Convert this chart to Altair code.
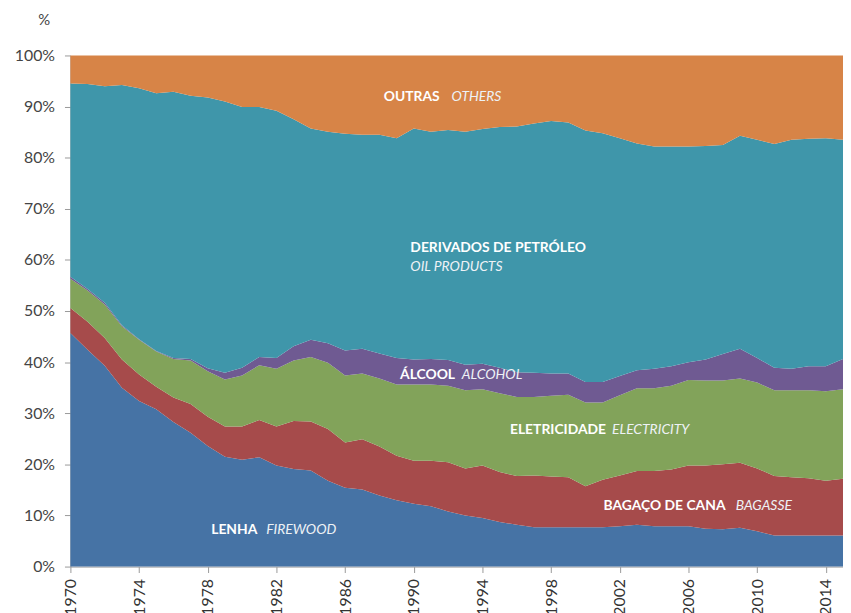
import altair as alt
import pandas as pd

years = list(range(1970, 2016))

lenha = [45.7, 42.4, 39.3, 35.0, 32.4, 30.8, 28.3, 26.2, 23.6, 21.5,
         20.9, 21.4, 19.8, 19.1, 18.8, 16.8, 15.4, 15.1, 13.9, 13.0,
         12.3, 11.8, 10.8, 10.0, 9.5, 8.7, 8.2, 7.7, 7.7, 7.7,
         7.7, 7.7, 7.9, 8.2, 7.9, 7.9, 7.9, 7.4, 7.3, 7.6,
         6.9, 6.1, 6.1, 6.1, 6.1, 6.1]

bagaco = [4.9, 5.5, 5.4, 5.5, 5.2, 4.4, 4.8, 5.6, 5.7, 5.9,
          6.5, 7.3, 7.6, 9.4, 9.6, 10.1, 8.9, 9.8, 9.6, 8.7,
          8.4, 8.9, 9.6, 9.2, 10.3, 9.8, 9.5, 10.1, 9.9, 9.8,
          8.0, 9.3, 9.9, 10.5, 10.8, 11.1, 11.9, 12.4, 12.7, 12.7,
          12.3, 11.6, 11.4, 11.2, 10.7, 11.1]

eletricidade = [5.7, 6.1, 6.6, 6.5, 6.8, 6.9, 7.5, 8.5, 8.9, 9.2,
                10.0, 10.7, 11.3, 11.8, 12.6, 13.0, 13.1, 12.9, 13.3, 13.9,
                14.9, 14.9, 15.0, 15.3, 14.9, 15.4, 15.5, 15.4, 15.8, 16.1,
                16.4, 15.1, 15.7, 16.2, 16.2, 16.4, 16.7, 16.6, 16.4, 16.5,
                16.8, 16.8, 17.0, 17.2, 17.5, 17.5]

alcool = [0.4, 0.3, 0.3, 0.2, 0.1, 0.1, 0.2, 0.3, 0.6, 1.3,
          1.5, 1.6, 2.1, 2.8, 3.4, 3.8, 4.9, 4.8, 4.9, 5.2,
          4.9, 5.0, 5.0, 5.0, 5.0, 5.0, 4.8, 4.7, 4.4, 4.2,
          4.0, 4.0, 3.8, 3.5, 3.8, 3.8, 3.5, 4.1, 5.2, 5.8,
          4.8, 4.4, 4.2, 4.7, 4.9, 5.9]

derivados = [37.8, 40.1, 42.4, 47.0, 49.1, 50.4, 52.1, 51.5, 53.0, 53.1,
             51.0, 48.9, 48.4, 44.4, 41.3, 41.4, 42.4, 41.9, 42.8, 43.0,
             45.2, 44.5, 45.0, 45.6, 45.9, 47.1, 48.1, 48.8, 49.4, 49.1,
             49.2, 48.7, 46.5, 44.4, 43.5, 43.0, 42.2, 41.8, 40.9, 41.7,
             42.7, 43.8, 44.8, 44.5, 44.6, 42.9]

outras = [5.5, 5.6, 6.0, 5.8, 6.4, 7.4, 7.1, 7.9, 8.2, 9.0,
          10.1, 10.1, 10.8, 12.5, 14.3, 14.9, 15.3, 15.5, 15.5, 16.2,
          14.3, 14.9, 14.6, 14.9, 14.4, 14.0, 13.9, 13.3, 12.8, 13.1,
          14.7, 15.2, 16.2, 17.2, 17.8, 17.8, 17.8, 17.7, 17.5, 15.7,
          16.5, 17.3, 16.5, 16.3, 16.2, 16.5]

series_names = ["Lenha", "Bagaço de cana", "Eletricidade", "Álcool",
                "Derivados de petróleo", "Outras"]
series_values = [lenha, bagaco, eletricidade, alcool, derivados, outras]
series_colors = ["#4673A5", "#A64B4B", "#82A35A", "#6F5A92", "#3F96AA", "#D78447"]

# annotation labels
label_bold = ["OUTRAS", "DERIVADOS DE PETRÓLEO", "ÁLCOOL", "ELETRICIDADE",
              "BAGAÇO DE CANA", "LENHA"]
label_bold_year = [1988.25, 1989.8, 1989.2, 1995.6, 2001.05, 1978.2]
label_bold_pct = [91.9, 62.3, 37.4, 26.7, 11.9, 7.2]
label_ital = ["OTHERS", "OIL PRODUCTS", "ALCOHOL", "ELECTRICITY",
              "BAGASSE", "FIREWOOD"]
label_ital_year = [1992.2, 1989.8, 1992.8, 2001.55, 2008.75, 1981.4]
label_ital_pct = [91.9, 58.6, 37.4, 26.7, 11.9, 7.2]

rows = []
for i, (name, vals) in enumerate(zip(series_names, series_values)):
    for y, v in zip(years, vals):
        rows.append({"year": y, "share": v, "fonte": name, "ordem": i})
df = pd.DataFrame(rows)

bold_df = pd.DataFrame({"year": label_bold_year, "pct": label_bold_pct, "txt": label_bold})
ital_df = pd.DataFrame({"year": label_ital_year, "pct": label_ital_pct, "txt": label_ital})

FONT = "Lato"

x_scale = alt.Scale(domain=[1970, 2015], nice=False, zero=False)
y_scale = alt.Scale(domain=[0, 100], nice=False)

area = alt.Chart(df).mark_area(interpolate="linear", opacity=1).encode(
    x=alt.X("year:Q", scale=x_scale,
            axis=alt.Axis(values=years, format="d",
                          labelExpr="(datum.value - 1970) % 4 == 0 ? toString(datum.value) : ''",
                          labelAngle=270, labelOverlap=False, labelFlush=False,
                          labelFont=FONT, labelFontSize=16, labelColor="#333333",
                          labelPadding=6, tickSize=6, tickColor="#999999",
                          domainColor="#999999", grid=False, title=None)),
    y=alt.Y("share:Q", stack="zero", scale=y_scale,
            axis=alt.Axis(values=list(range(0, 101, 10)),
                          labelExpr="datum.value + '%'",
                          labelFont=FONT, labelFontSize=16, labelColor="#444444",
                          labelPadding=10, tickSize=6, tickColor="#999999",
                          domainColor="#999999", grid=False,
                          title="%", titleAngle=0, titleFont=FONT, titleFontSize=15,
                          titleFontWeight="normal", titleColor="#444444",
                          titleAlign="left", titleBaseline="middle",
                          titleX=-33, titleY=-36)),
    color=alt.Color("fonte:N", scale=alt.Scale(domain=series_names, range=series_colors),
                    legend=None),
    order=alt.Order("ordem:Q", sort="ascending"),
)

bold_txt = alt.Chart(bold_df).mark_text(
    align="left", baseline="middle", font=FONT, fontSize=14, fontWeight="bold",
    color="#FFFFFF"
).encode(
    x=alt.X("year:Q", scale=x_scale),
    y=alt.Y("pct:Q", scale=y_scale, stack=None),
    text="txt:N",
)

ital_txt = alt.Chart(ital_df).mark_text(
    align="left", baseline="middle", font=FONT, fontSize=14, fontStyle="italic",
    fontWeight="normal", color="#EEF2F6"
).encode(
    x=alt.X("year:Q", scale=x_scale),
    y=alt.Y("pct:Q", scale=y_scale, stack=None),
    text="txt:N",
)

chart = alt.layer(area, bold_txt, ital_txt).properties(
    width=780, height=516,
    padding={"left": 6, "top": 2, "right": 0, "bottom": 0},
).configure_view(stroke=None)

chart.save("out.html", embed_options={"renderer": "svg", "actions": False})
